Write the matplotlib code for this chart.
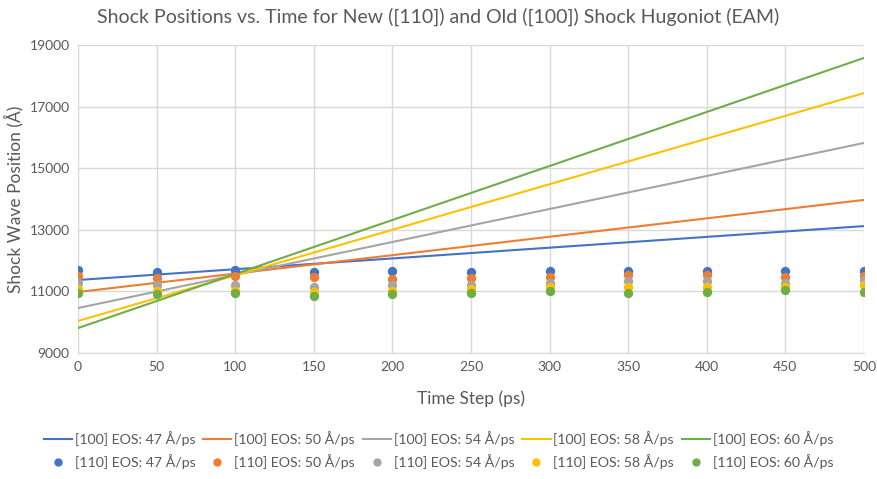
import matplotlib
matplotlib.use("Agg")
import matplotlib.pyplot as plt
from matplotlib.lines import Line2D

plt.rcParams["font.family"] = ["Lato", "DejaVu Sans"]

speeds = [47, 50, 54, 58, 60]
colors = ["#4472C4", "#ED7D31", "#A5A5A5", "#FFC000", "#70AD47"]

# [100] EOS fits: straight lines, values at t=0 and t=500 ps
line_t = [0, 500]
eos_47 = [11370, 13120]
eos_50 = [10980, 13970]
eos_54 = [10460, 15820]
eos_58 = [10040, 17440]
eos_60 = [9810, 18580]

# [110] measured shock positions
time_steps = [0, 50, 100, 150, 200, 250, 300, 350, 400, 450, 500]
pos_47 = [11695, 11640, 11695, 11620, 11662, 11630, 11662, 11673, 11673, 11673, 11652]
pos_50 = [11500, 11435, 11500, 11478, 11412, 11440, 11478, 11532, 11522, 11478, 11500]
pos_54 = [11273, 11218, 11198, 11133, 11218, 11210, 11283, 11327, 11327, 11283, 11370]
pos_58 = [11078, 11023, 11023, 10990, 11023, 11090, 11133, 11153, 11153, 11153, 11198]
pos_60 = [10948, 10925, 10938, 10860, 10906, 10955, 11013, 10958, 10990, 11045, 10980]

eos_lines = [eos_47, eos_50, eos_54, eos_58, eos_60]
positions = [pos_47, pos_50, pos_54, pos_58, pos_60]

fig = plt.figure(figsize=(8.77, 4.79), dpi=100)
ax = fig.add_axes([78 / 877, 1 - 353 / 479, 786 / 877, 308 / 479])

handles = []
labels = []
for v, c, ys, pts in zip(speeds, colors, eos_lines, positions):
    ax.plot(line_t, ys, color=c, lw=1.5, zorder=3)
    ax.scatter(time_steps, pts, s=45, color=c, zorder=4, linewidths=0)
    handles.append(Line2D([], [], color=c, lw=1.5))
    labels.append(f"[100] EOS: {v} Å/ps")
    handles.append(Line2D([], [], color=c, lw=0, marker="o", markersize=5))
    labels.append(f"[110] EOS: {v} Å/ps")

ax.set_xlim(0, 500)
ax.set_ylim(9000, 19000)
ax.set_xticks(range(0, 501, 50))
ax.set_yticks(range(9000, 19001, 2000))
ax.grid(color="#D9D9D9", lw=1)
ax.set_axisbelow(True)
for s in ax.spines.values():
    s.set_visible(False)
ax.spines["bottom"].set_visible(True)
ax.spines["bottom"].set_color("#D9D9D9")
ax.tick_params(length=0, labelsize=10, colors="#595959", pad=6)

ax.set_xlabel("Time Step (ps)", fontsize=12.5, color="#595959", labelpad=12)
ax.set_ylabel("Shock Wave Position (Å)", fontsize=12.5, color="#595959", labelpad=4)
fig.suptitle("Shock Positions vs. Time for New ([110]) and Old ([100]) Shock Hugoniot (EAM)",
             fontsize=14, color="#595959", y=0.985)

leg = fig.legend(handles, labels, ncol=5, loc="center", bbox_to_anchor=(0.5, 1 - 450 / 479),
                 frameon=False, fontsize=10.2, handlelength=2.0, handletextpad=0.2,
                 columnspacing=0.55, labelspacing=0.55)
for t in leg.get_texts():
    t.set_color("#595959")

fig.savefig("out.png", dpi=100)
